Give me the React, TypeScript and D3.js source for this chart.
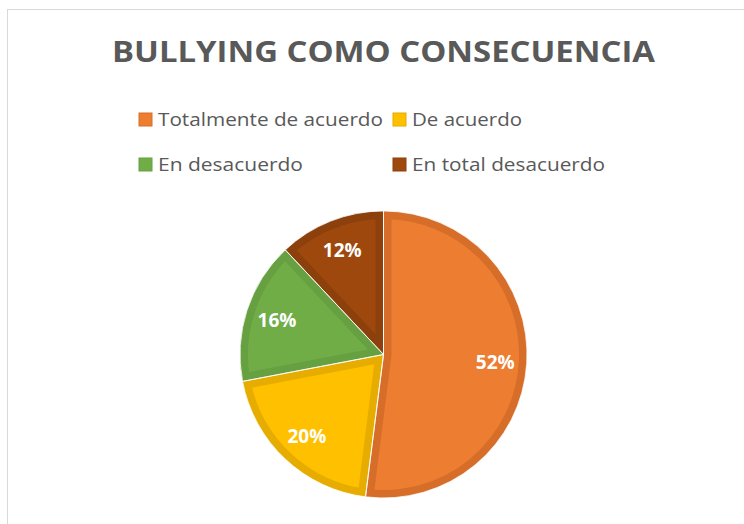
import React from "react";
import * as d3 from "d3";

const title = "BULLYING COMO CONSECUENCIA";
const categories = ["Totalmente de acuerdo", "De acuerdo", "En desacuerdo", "En total desacuerdo"];
const values = [52, 20, 16, 12];
const fillColors = ["#ED7D31", "#FFC000", "#70AD47", "#9E480E"];
const borderColors = ["#D66E2A", "#E6AC00", "#66A040", "#8C400C"];
const legendWidths = [225, 110, 145, 193];

const W = 744;
const H = 524;
const cx = 383.5;
const cy = 354.5;
const R = 143.5;
const FONT = "'Open Sans', 'DejaVu Sans', sans-serif";

export default function App() {
  const pie = d3.pie<number>().sort(null).value((d) => d)(values);
  const arc = d3.arc<d3.PieArcDatum<number>>().innerRadius(0).outerRadius(R);
  const labelArc = d3.arc<d3.PieArcDatum<number>>().innerRadius(R * 0.78).outerRadius(R * 0.78);
  const total = d3.sum(values);

  // legend layout: two columns, two rows
  const colX = [139, 393];
  const rowY = [119, 164];

  return (
    <svg width={W} height={H} style={{ position: "absolute", left: 0, top: 0, background: "#fff" }}>
      <rect x={7.5} y={9.5} width={W} height={H} fill="#fff" stroke="#D9D9D9" strokeWidth={1} />
      <text
        x={cx}
        y={62}
        textAnchor="middle"
        fontFamily={FONT}
        fontWeight="bold"
        fontSize={28}
        fill="#595959"
        textLength={543}
        lengthAdjust="spacingAndGlyphs"
      >
        {title}
      </text>
      {categories.map((c, i) => {
        const x = colX[i % 2];
        const y = rowY[Math.floor(i / 2)];
        return (
          <g key={c}>
            <rect x={x} y={y - 6} width={13} height={13} fill={fillColors[i]} stroke={borderColors[i]} strokeWidth={1} />
            <text
              x={x + 19}
              y={y + 6.5}
              fontFamily={FONT}
              fontSize={18}
              fill="#595959"
              textLength={legendWidths[i]}
              lengthAdjust="spacingAndGlyphs"
            >
              {c}
            </text>
          </g>
        );
      })}
      <defs>
        {pie.map((p, i) => (
          <clipPath id={`clip${i}`} key={i}>
            <path d={arc(p) as string} transform={`translate(${cx},${cy})`} />
          </clipPath>
        ))}
      </defs>
      {pie.map((p, i) => (
        <g key={i} clipPath={`url(#clip${i})`}>
          <path
            d={arc(p) as string}
            transform={`translate(${cx},${cy})`}
            fill={fillColors[i]}
            stroke={borderColors[i]}
            strokeWidth={16}
            strokeLinejoin="miter"
          />
        </g>
      ))}
      {pie.map((p, i) => (
        <path
          key={`s${i}`}
          d={arc(p) as string}
          transform={`translate(${cx},${cy})`}
          fill="none"
          stroke="#fff"
          strokeWidth={1}
          strokeOpacity={0.8}
        />
      ))}
      {pie.map((p, i) => {
        const [lx, ly] = labelArc.centroid(p);
        return (
          <text
            key={`l${i}`}
            x={cx + lx}
            y={cy + ly + 7}
            textAnchor="middle"
            fontFamily={FONT}
            fontWeight="bold"
            fontSize={19}
            fill="#fff"
          >
            {`${Math.round((values[i] / total) * 100)}%`}
          </text>
        );
      })}
    </svg>
  );
}
